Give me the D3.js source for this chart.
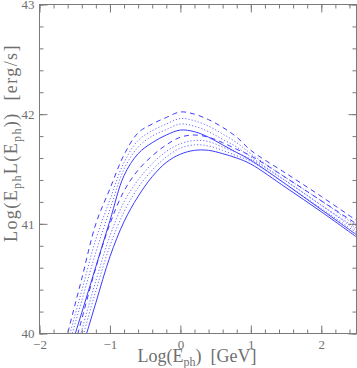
<!DOCTYPE html>
<html>
<head>
<meta charset="utf-8">
<script src="https://cdn.jsdelivr.net/npm/d3@7"></script>
<style>
	body { margin:0; background:#fff; }
	svg text { font-family:"Liberation Serif","DejaVu Serif",serif; fill:#6f6f6f; }
</style>
</head>
<body>
<svg width="357" height="368"></svg>
<script>
// log photon energy grid (GeV)
var logE = [-1.8, -1.6, -1.4, -1.2, -1.0, -0.8, -0.6, -0.4, -0.2, 0.0, 0.2, 0.4, 0.6, 0.8, 1.0, 1.5, 2.0, 2.5];

// upper family (with the shoulder near -0.7)
var dashedHi  = [39.45, 40.00, 40.50, 41.00, 41.32, 41.63, 41.83, 41.91, 41.97, 42.02, 42.00, 41.95, 41.88, 41.79, 41.67, 41.46, 41.25, 41.03];
var dottedHi1 = [39.40, 39.92, 40.39, 40.86, 41.22, 41.56, 41.76, 41.85, 41.91, 41.96, 41.94, 41.89, 41.82, 41.74, 41.64, 41.42, 41.21, 40.98];
var dottedHi2 = [39.35, 39.85, 40.30, 40.74, 41.13, 41.50, 41.70, 41.80, 41.86, 41.91, 41.89, 41.84, 41.77, 41.70, 41.61, 41.39, 41.17, 40.94];
var solidHi   = [39.30, 39.77, 40.19, 40.61, 41.03, 41.44, 41.64, 41.74, 41.81, 41.855, 41.84, 41.79, 41.72, 41.65, 41.58, 41.36, 41.13, 40.90];

// lower family
var dashedLo  = [39.20, 39.66, 40.13, 40.60, 41.00, 41.30, 41.49, 41.62, 41.72, 41.79, 41.81, 41.79, 41.74, 41.68, 41.62, 41.42, 41.21, 41.00];
var dottedLo1 = [39.11, 39.57, 40.03, 40.48, 40.89, 41.20, 41.40, 41.55, 41.66, 41.73, 41.76, 41.75, 41.70, 41.65, 41.59, 41.39, 41.17, 40.96];
var dottedLo2 = [39.03, 39.49, 39.94, 40.39, 40.80, 41.11, 41.33, 41.49, 41.61, 41.69, 41.72, 41.71, 41.67, 41.62, 41.57, 41.36, 41.14, 40.92];
var solidLo   = [38.95, 39.40, 39.85, 40.28, 40.70, 41.02, 41.25, 41.43, 41.56, 41.635, 41.67, 41.67, 41.64, 41.60, 41.545, 41.33, 41.11, 40.88];

var xMajor = [-2, -1, 0, 1, 2];
var yMajor = [40, 41, 42, 43];

var curves = [
	{values: dashedHi,  kind: 'dashed'},
	{values: dottedHi1, kind: 'dotted'},
	{values: dottedHi2, kind: 'dotted'},
	{values: solidHi,   kind: 'solid'},
	{values: dashedLo,  kind: 'dashed'},
	{values: dottedLo1, kind: 'dotted'},
	{values: dottedLo2, kind: 'dotted'},
	{values: solidLo,   kind: 'solid'}
];

var svg = d3.select("svg");
var x = d3.scaleLinear().domain([-2, 2.5]).range([39.5, 356.5]);
var y = d3.scaleLinear().domain([40, 43]).range([333.5, 4.5]);

svg.append("defs").append("clipPath")
	.attr("id", "plot")
	.append("rect")
	.attr("x", x(-2)).attr("y", y(43))
	.attr("width", x(2.5) - x(-2)).attr("height", y(40) - y(43));

// curves
var line = d3.line()
	.x(function(d){ return x(d[0]); })
	.y(function(d){ return y(d[1]); })
	.curve(d3.curveCatmullRom.alpha(0.5));

var dash = {solid: null, dashed: "5,4", dotted: "1.2,2"};

svg.append("g")
	.attr("clip-path", "url(#plot)")
	.selectAll("path")
	.data(curves)
	.enter().append("path")
	.attr("d", function(c){ return line(logE.map(function(e, i){ return [e, c.values[i]]; })); })
	.attr("fill", "none")
	.attr("stroke", function(c){ return c.kind == 'dotted' ? "#6b6bff" : "#3c3cff"; })
	.attr("stroke-width", 1)
	.attr("stroke-dasharray", function(c){ return dash[c.kind]; });

// axes: minor every 0.2, major on integers, ticks pointing inward
var xMinor = d3.range(-2, 2.5001, 0.2);
var yMinor = d3.range(40, 43.0001, 0.2);

function axisGroup(axis, tx, ty){
	var g = svg.append("g")
		.attr("transform", "translate(" + tx + "," + ty + ")")
		.call(axis);
	g.select(".domain").remove();
	g.selectAll("line").attr("stroke", "#7a7a7a");
	return g;
}

axisGroup(d3.axisBottom(x).tickValues(xMinor).tickSize(-4).tickFormat(""), 0, y(40));
axisGroup(d3.axisTop(x).tickValues(xMinor).tickSize(-4).tickFormat(""), 0, y(43));
axisGroup(d3.axisLeft(y).tickValues(yMinor).tickSize(-4).tickFormat(""), x(-2), 0);
axisGroup(d3.axisRight(y).tickValues(yMinor).tickSize(-4).tickFormat(""), x(2.5), 0);

axisGroup(d3.axisBottom(x).tickValues(xMajor).tickSize(-8).tickPadding(6).tickFormat(d3.format("d")), 0, y(40))
	.selectAll("text").attr("font-size", 13).attr("fill", "#6f6f6f");
axisGroup(d3.axisTop(x).tickValues(xMajor).tickSize(-8).tickFormat(""), 0, y(43));
axisGroup(d3.axisLeft(y).tickValues(yMajor).tickSize(-8).tickPadding(5).tickFormat(d3.format("d")), x(-2), 0)
	.selectAll("text").attr("font-size", 13).attr("fill", "#6f6f6f");
axisGroup(d3.axisRight(y).tickValues(yMajor).tickSize(-8).tickFormat(""), x(2.5), 0);

svg.append("rect")
	.attr("x", x(-2)).attr("y", y(43))
	.attr("width", x(2.5) - x(-2)).attr("height", y(40) - y(43))
	.attr("fill", "none")
	.attr("stroke", "#7a7a7a")
	.attr("stroke-width", 1);

// axis titles
var xt = svg.append("text")
	.attr("x", 197).attr("y", 362)
	.attr("text-anchor", "middle")
	.attr("font-size", 18);
xt.append("tspan").text("Log(E");
xt.append("tspan").attr("font-size", 12).attr("dy", 4).text("ph");
xt.append("tspan").attr("dy", -4).text(")\u00a0\u00a0[GeV]");

var yt = svg.append("text")
	.attr("transform", "translate(17,143) rotate(-90)")
	.attr("text-anchor", "middle")
	.attr("letter-spacing", 1.4)
	.attr("font-size", 18);
yt.append("tspan").text("Log(E");
yt.append("tspan").attr("font-size", 12).attr("dy", 4).text("ph");
yt.append("tspan").attr("dy", -4).text("L(E");
yt.append("tspan").attr("font-size", 12).attr("dy", 4).text("ph");
yt.append("tspan").attr("dy", -4).text("))\u00a0\u00a0[erg/s]");
</script>
</body>
</html>
